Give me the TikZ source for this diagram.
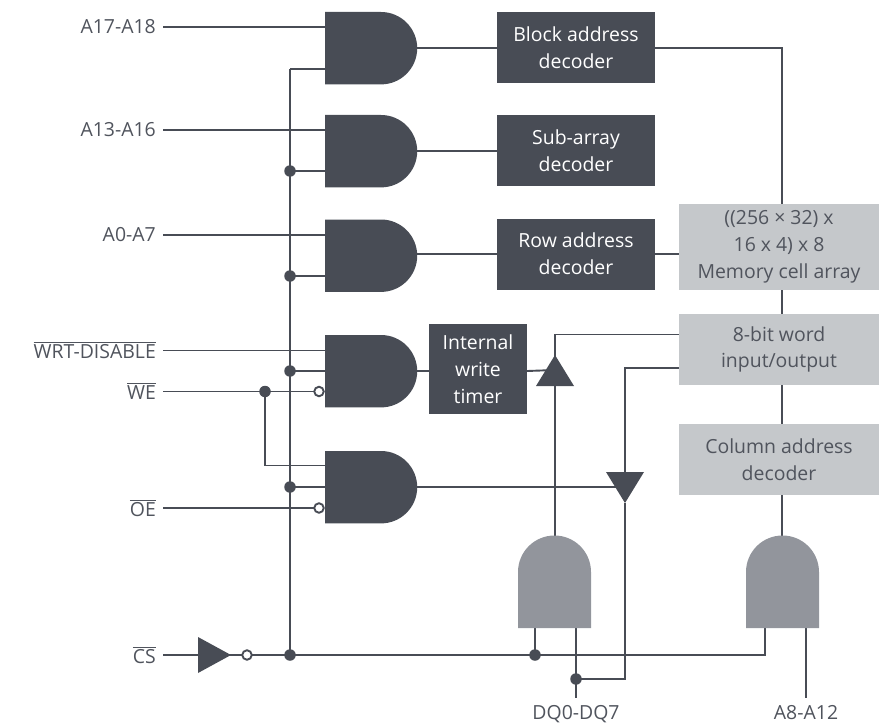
\documentclass[tikz,border=0pt]{standalone}
\usepackage{fontspec}
\setmainfont{Open Sans}
\definecolor{inkdark}{HTML}{484C55}
\definecolor{gatemid}{HTML}{92959C}
\definecolor{boxlight}{HTML}{C5C8CB}
\definecolor{labeltxt}{HTML}{50545D}
\newcommand{\ovl}[1]{\leavevmode\vbox{\hrule height 0.9pt\kern 1.8pt\hbox{#1}}}
\tikzset{
  wire/.style={draw=inkdark,line width=1.9bp},
  dot/.style={circle,fill=inkdark,inner sep=0,minimum size=11.5bp},
  bubble/.style={circle,draw=inkdark,fill=white,line width=1.9bp,inner sep=0,minimum size=9.5bp},
  darkbox/.style={fill=inkdark,text=white,inner sep=0,align=center,font=\fontsize{19.5}{27}\selectfont},
  lightbox/.style={fill=boxlight,text=labeltxt,inner sep=0,align=center,font=\fontsize{19.5}{27}\selectfont},
  sig/.style={text=labeltxt,inner sep=0,anchor=east,font=\fontsize{19.5}{24}\selectfont},
  pinlabel/.style={text=labeltxt,inner sep=0,anchor=base,font=\fontsize{19.5}{24}\selectfont},
  hgatefill/.style={fill=inkdark},
  vgatefill/.style={fill=gatemid},
  tri/.style={fill=inkdark}
}
% horizontal AND gate: top y
\newcommand{\hgate}[1]{\path[hgatefill] (325,#1) -- (381,#1) arc[start angle=90,end angle=-90,radius=36.2bp] -- (325,#1+72.4) -- cycle;}
% vertical AND gate: left x
\newcommand{\vgate}[1]{\path[vgatefill] (#1,628) -- (#1,572) arc[start angle=180,end angle=0,radius=36.5bp] -- (#1+73,628) -- cycle;}
\begin{document}
\begin{tikzpicture}[x=1bp,y=-1bp]
\useasboundingbox (0,0) rectangle (879,723);
% boxes
\node[darkbox,minimum width=158bp,minimum height=71bp] (block) at (576,47.5) {Block address\\decoder};
\node[darkbox,minimum width=158bp,minimum height=71bp] (sub) at (576,150.5) {Sub-array\\decoder};
\node[darkbox,minimum width=158bp,minimum height=71bp] (row) at (576,254) {Row address\\decoder};
\node[darkbox,minimum width=98bp,minimum height=90bp] (timer) at (478,369) {Internal\\write\\timer};
\node[lightbox,minimum width=200bp,minimum height=86bp] (mem) at (779,247) {((256 × 32) x\\16 x 4) x 8\\Memory cell array};
\node[lightbox,minimum width=200bp,minimum height=71bp] (io) at (779,349.5) {8-bit word\\input/output};
\node[lightbox,minimum width=200bp,minimum height=71bp] (col) at (779,459.5) {Column address\\decoder};
% labels
\node[sig] (a17) at (156,27) {A17-A18};
\node[sig] (a13) at (156,130) {A13-A16};
\node[sig] (a0) at (156,235) {A0-A7};
\node[sig] (wrt) at (156,350) {\ovl{WRT-DISABLE}};
\node[sig] (we) at (156,391) {\ovl{WE}};
\node[sig] (oe) at (156,508) {\ovl{OE}};
\node[sig] (cs) at (156,655) {\ovl{CS}};
\node[pinlabel] (dq) at (576,719) {DQ0-DQ7};
\node[pinlabel] (a8) at (806,719) {A8-A12};
% pins
\coordinate (s1) at (163,27); \coordinate (s2) at (163,130); \coordinate (s3) at (163,235);
\coordinate (s4) at (163,350.5); \coordinate (s5) at (163,391.5); \coordinate (s6) at (163,508); \coordinate (s7) at (163,655);
\coordinate (bustop) at (290,69);
\coordinate (g1a) at (330,27); \coordinate (g1b) at (330,69); \coordinate (g1o) at (417,48);
\coordinate (g2a) at (330,130); \coordinate (g2b) at (330,171); \coordinate (g2o) at (417,151);
\coordinate (g3a) at (330,235); \coordinate (g3b) at (330,276); \coordinate (g3o) at (417,254);
\coordinate (g4a) at (330,350.5); \coordinate (g4b) at (330,371); \coordinate (g4o) at (417,371);
\coordinate (g5a) at (330,465.5); \coordinate (g5b) at (330,487); \coordinate (g5o) at (417,487);
\coordinate (upin) at (555,536); \coordinate (upout) at (555,355); \coordinate (upleft) at (555,370);
\coordinate (dnin) at (625,472); \coordinate (dnout) at (625,503); \coordinate (dnside) at (620,487);
\coordinate (dqa) at (535,628); \coordinate (dqb) at (576,628); \coordinate (dqend) at (576,698);
\coordinate (cola) at (765,628); \coordinate (colb) at (806,628); \coordinate (a8end) at (806,698);
\coordinate (coltop) at (782,536); \coordinate (railtop) at (782,48);
% junctions
\node[dot] (j2) at (290,171) {};
\node[dot] (j3) at (290,276) {};
\node[dot] (j4) at (290,371) {};
\node[dot] (j5) at (290,487) {};
\node[dot] (j7) at (290,655) {};
\node[dot] (jwe) at (265,391.5) {};
\node[dot] (jdq) at (535,655) {};
\node[dot] (jio) at (576,679) {};
% wires
\draw[wire] (s1) -- (g1a); \draw[wire] (s2) -- (g2a); \draw[wire] (s3) -- (g3a); \draw[wire] (s4) -- (g4a);
\draw[wire] (bustop) -- (g1b);
\draw[wire] (bustop) -- (j7.center);
\draw[wire] (j2.center) -- (g2b); \draw[wire] (j3.center) -- (g3b); \draw[wire] (j4.center) -- (g4b); \draw[wire] (j5.center) -- (g5b);
\draw[wire] (s5) -- (jwe.center) |- (g5a);
\coordinate (b1) at (319,391.5); \coordinate (b2) at (319,508); \coordinate (b3) at (247,655);
\draw[wire] (jwe.center) -- (b1);
\draw[wire] (s6) -- (b2);
\draw[wire] (s7) -- (b3) -- (j7.center) -- (jdq.center) -| (cola);
\draw[wire] (g1o) -- (block.west |- g1o);
\draw[wire] (g2o) -- (sub.west |- g2o);
\draw[wire] (g3o) -- (row.west |- g3o);
\draw[wire] (g4o) -- (timer.west |- g4o);
\draw[wire] (timer.east |- g4o) -- (upleft);
\draw[wire] (g5o) -- (dnside);
\draw[wire] (block.east |- railtop) -- (railtop) -- (coltop);
\draw[wire] (sub.east |- g2o) -- ++(0,0);
\draw[wire] (row.east |- g3o) -- (mem.west |- g3o);
\draw[wire] (io.west |- 0,334.5) -| (upin);
\draw[wire] (io.west |- 0,368) -| (dnin);
\draw[wire] (dnout) |- (jio.center);
\draw[wire] (dqa) -- (jdq.center);
\draw[wire] (dqb) -- (dqend);
\draw[wire] (colb) -- (a8end);
% redraw boxes above the rail
\node[lightbox,minimum width=200bp,minimum height=86bp] at (779,247) {((256 × 32) x\\16 x 4) x 8\\Memory cell array};
\node[lightbox,minimum width=200bp,minimum height=71bp] at (779,349.5) {8-bit word\\input/output};
\node[lightbox,minimum width=200bp,minimum height=71bp] at (779,459.5) {Column address\\decoder};
% gates
\hgate{12} \hgate{115} \hgate{219.5} \hgate{335} \hgate{451}
\vgate{518} \vgate{746}
\path[tri] (555,355) -- (574,386) -- (536,386) -- cycle;
\path[tri] (606,472) -- (644,472) -- (625,503) -- cycle;
\path[tri] (198,637) -- (231,655) -- (198,673) -- cycle;
\node[bubble] (n1) at (b1) {};
\node[bubble] (n2) at (b2) {};
\node[bubble] (n3) at (b3) {};
\end{tikzpicture}
\end{document}
